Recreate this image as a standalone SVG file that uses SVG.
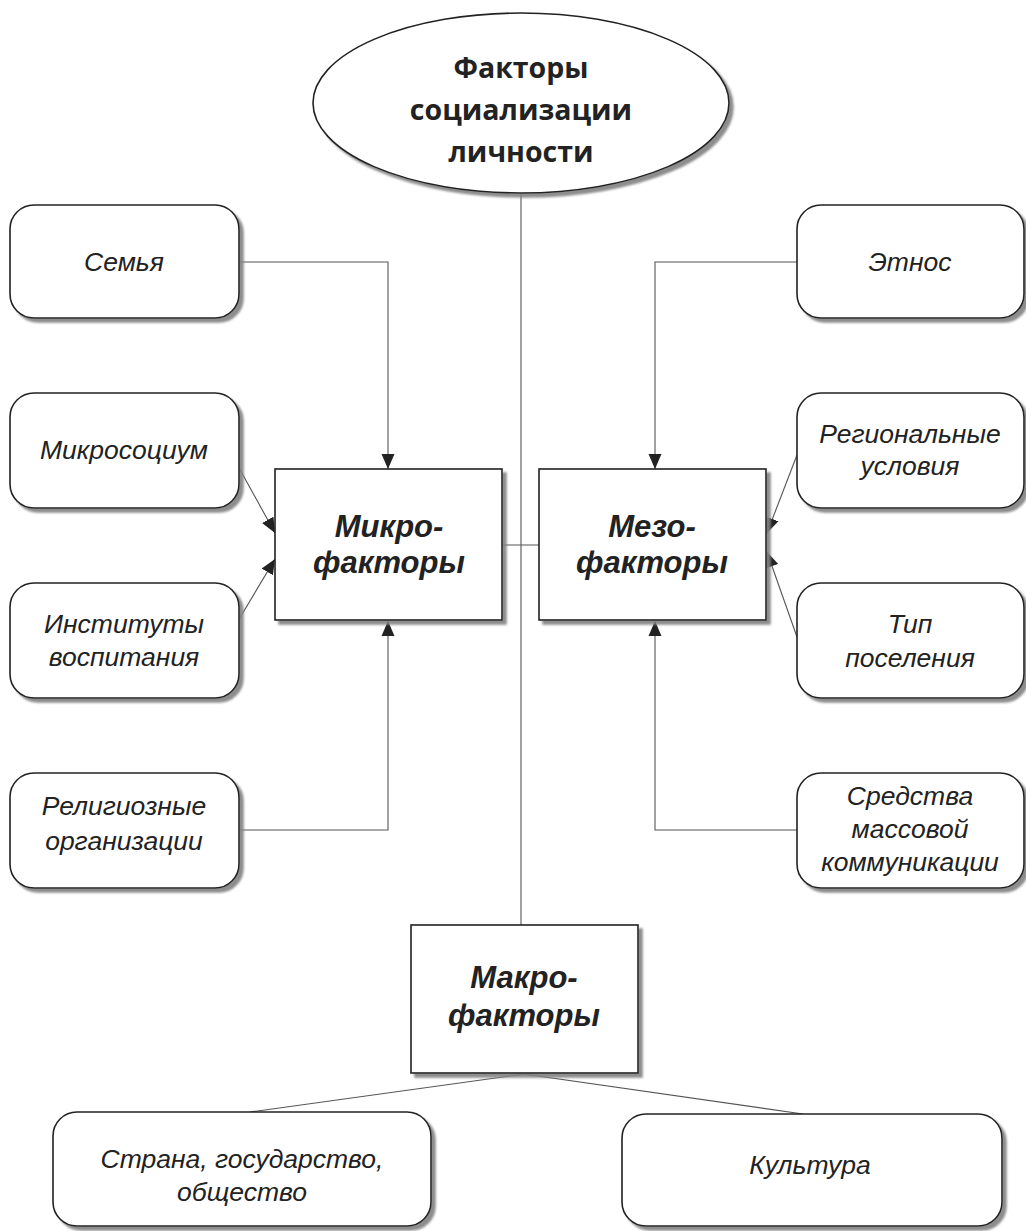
<svg xmlns="http://www.w3.org/2000/svg" width="1026" height="1231" viewBox="0 0 1026 1231">
<defs>
<filter id="sh" x="-10%" y="-10%" width="130%" height="130%">
<feDropShadow dx="4" dy="4" stdDeviation="1.2" flood-color="#808080" flood-opacity="0.9"/>
</filter>
<marker id="ar" viewBox="0 0 15 14" refX="15" refY="7" markerWidth="15" markerHeight="14" markerUnits="userSpaceOnUse" orient="auto">
<path d="M0,0.5 L15,7 L0,13.5 Z" fill="#222"/>
</marker>
</defs>
<style>
.rb{fill:#fff;stroke:#222;stroke-width:1.6;filter:url(#sh)}
.sq{fill:#fff;stroke:#222;stroke-width:1.6;filter:url(#sh)}
.t{font-family:"Liberation Sans",Arial,sans-serif;font-style:italic;font-size:26.5px;fill:#222;text-anchor:middle}
.b{font-family:"Liberation Sans",Arial,sans-serif;font-style:italic;font-weight:bold;font-size:31px;fill:#222;text-anchor:middle}
.h{font-family:"Open Sans","Noto Sans",sans-serif;font-weight:bold;font-size:28.5px;fill:#222;text-anchor:middle}
.c{fill:none;stroke:#555;stroke-width:1.1}
.ca{fill:none;stroke:#555;stroke-width:1.1;marker-end:url(#ar)}
</style>
<rect width="1026" height="1231" fill="#fff"/>
<g id="connectors">
<line class="c" x1="521" y1="193" x2="521" y2="925"/>
<line class="c" x1="502" y1="545" x2="539" y2="545"/>
<polyline class="ca" points="240,262 388,262 388,469"/>
<polyline class="ca" points="240,830 388,830 388,621"/>
<polyline class="ca" points="797,262 655,262 655,469"/>
<polyline class="ca" points="797,830 655,830 655,621"/>
<line class="ca" x1="238" y1="466" x2="275" y2="533"/>
<line class="ca" x1="238" y1="621" x2="275" y2="559"/>
<line class="ca" x1="797" y1="455" x2="767" y2="533"/>
<line class="ca" x1="797" y1="637" x2="767" y2="552"/>
<line class="c" x1="524" y1="1074" x2="250" y2="1112"/>
<line class="c" x1="524" y1="1074" x2="803" y2="1114"/>
</g>
<g id="root">
<ellipse class="rb" cx="521" cy="103" rx="208" ry="90"/>
<text class="h" x="521" y="78">Факторы</text>
<text class="h" x="521" y="120">социализации</text>
<text class="h" x="521" y="162">личности</text>
</g>
<g id="micro">
<rect class="sq" x="275" y="469" width="227" height="151"/>
<text class="b" x="389" y="537">Микро-</text>
<text class="b" x="389" y="573">факторы</text>
</g>
<g id="meso">
<rect class="sq" x="539" y="469" width="227" height="151"/>
<text class="b" x="652" y="537">Мезо-</text>
<text class="b" x="652" y="573">факторы</text>
</g>
<g id="macro">
<rect class="sq" x="411" y="925" width="227" height="148"/>
<text class="b" x="524" y="988">Макро-</text>
<text class="b" x="524" y="1026">факторы</text>
</g>
<g id="semya">
<rect class="rb" x="10" y="205" width="229" height="113" rx="24"/>
<text class="t" x="124" y="271">Семья</text>
</g>
<g id="mikrosocium">
<rect class="rb" x="10" y="393" width="229" height="115" rx="24"/>
<text class="t" x="124" y="459">Микросоциум</text>
</g>
<g id="instituty">
<rect class="rb" x="10" y="583" width="229" height="115" rx="24"/>
<text class="t" x="124" y="633">Институты</text>
<text class="t" x="124" y="666">воспитания</text>
</g>
<g id="religioznye">
<rect class="rb" x="10" y="773" width="229" height="115" rx="24"/>
<text class="t" x="124" y="815">Религиозные</text>
<text class="t" x="124" y="850">организации</text>
</g>
<g id="etnos">
<rect class="rb" x="797" y="205" width="227" height="113" rx="24"/>
<text class="t" x="910" y="271">Этнос</text>
</g>
<g id="regionalnye">
<rect class="rb" x="797" y="393" width="227" height="115" rx="24"/>
<text class="t" x="910" y="443">Региональные</text>
<text class="t" x="910" y="475">условия</text>
</g>
<g id="tip">
<rect class="rb" x="797" y="583" width="227" height="115" rx="24"/>
<text class="t" x="910" y="633">Тип</text>
<text class="t" x="910" y="667">поселения</text>
</g>
<g id="smk">
<rect class="rb" x="797" y="773" width="227" height="115" rx="24"/>
<text class="t" x="910" y="805">Средства</text>
<text class="t" x="910" y="838">массовой</text>
<text class="t" x="910" y="871">коммуникации</text>
</g>
<g id="strana">
<rect class="rb" x="53" y="1112" width="378" height="114" rx="24"/>
<text class="t" x="242" y="1168">Страна, государство,</text>
<text class="t" x="242" y="1201">общество</text>
</g>
<g id="kultura">
<rect class="rb" x="622" y="1114" width="380" height="112" rx="24"/>
<text class="t" x="810" y="1174">Культура</text>
</g>
</svg>
